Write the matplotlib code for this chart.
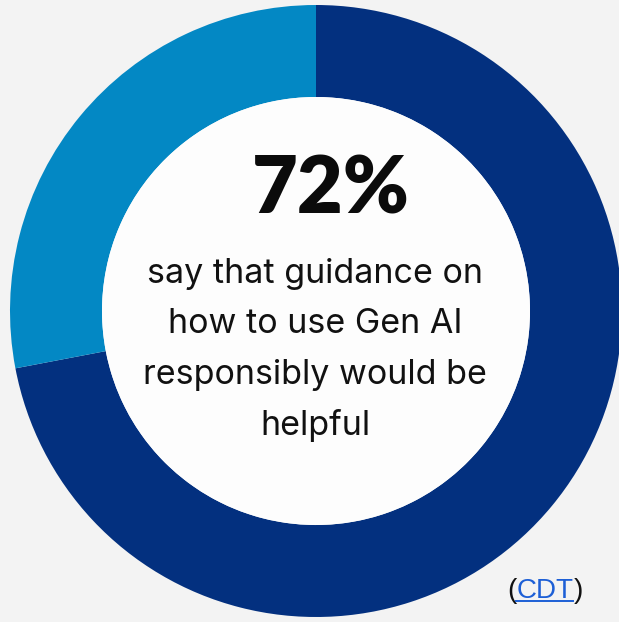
import matplotlib
matplotlib.use("Agg")
import matplotlib.pyplot as plt
from matplotlib.patches import Circle
from matplotlib.lines import Line2D

# Data
labels = ["Helpful", "Other"]
values = [72, 28]
colors = ["#03307f", "#0388c4"]
headline = "72%"
body_lines = ["say that guidance on", "how to use Gen AI", "responsibly would be", "helpful"]
source = "CDT"

W, H = 619, 622
fig = plt.figure(figsize=(W / 100, H / 100), dpi=100)
fig.patch.set_facecolor("#f3f3f3")
ax = fig.add_axes([0, 0, 1, 1])
ax.set_facecolor("#f3f3f3")

cx, cy = 316, H - 311
R, r = 306, 214
ax.pie(values, colors=colors, startangle=90, counterclock=False,
       center=(cx, cy), radius=R, frame=True,
       wedgeprops=dict(width=R - r, linewidth=0))
ax.set_xlim(0, W)
ax.set_ylim(0, H)
ax.axis("off")
ax.add_patch(Circle((cx, cy), r, facecolor="#fdfdfd", edgecolor="none", zorder=3))

ax.text(331, H - 213, headline, fontsize=57, fontweight="heavy", family="Lato",
        ha="center", va="baseline", color="#0b0b0b", zorder=4)
baselines = [283, 333, 384, 435]
for line, b in zip(body_lines, baselines):
    ax.text(315, H - b, line, fontsize=24.5, family="Inter", ha="center",
            va="baseline", color="#111111", zorder=4)

# source "(CDT)" with underline
fig.canvas.draw()
renderer = fig.canvas.get_renderer()
x0 = 507
by = H - 598
fs = 20
t1 = ax.text(x0, by, "(", fontsize=fs, family="Liberation Sans", ha="left", va="baseline", color="#111111", zorder=4)
bb = t1.get_window_extent(renderer)
t2 = ax.text(bb.x1, by, source, fontsize=fs, family="Liberation Sans", ha="left", va="baseline", color="#1d5fd6", zorder=4)
bb2 = t2.get_window_extent(renderer)
ax.text(bb2.x1, by, ")", fontsize=fs, family="Liberation Sans", ha="left", va="baseline", color="#111111", zorder=4)
ax.add_line(Line2D([bb2.x0, bb2.x1], [by - 3, by - 3], color="#1d5fd6", linewidth=1.4, zorder=4))

fig.savefig("out.png", dpi=100, facecolor=fig.get_facecolor())
